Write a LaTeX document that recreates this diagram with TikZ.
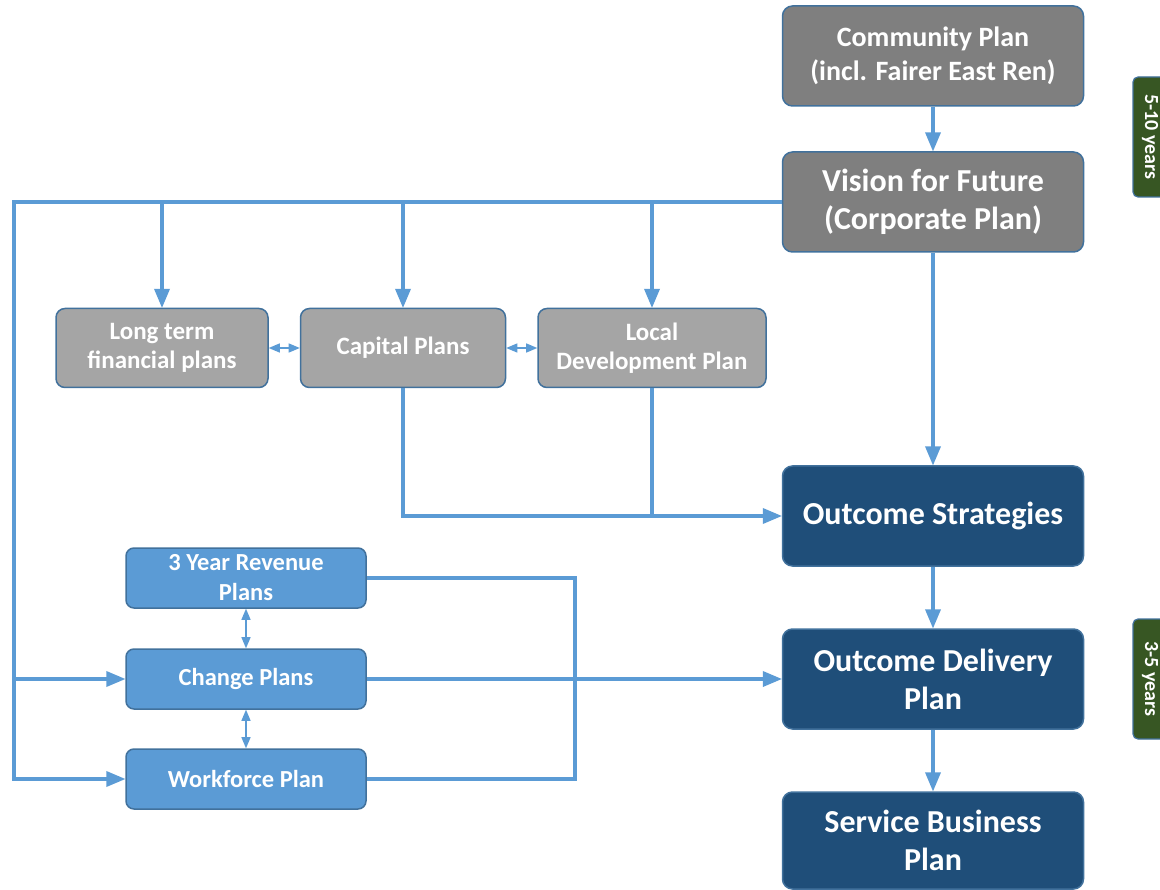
\documentclass[tikz,border=0pt]{standalone}
\usepackage{fontspec}
\setmainfont{Carlito}
\usetikzlibrary{arrows,shapes}

\definecolor{darkgrey}{HTML}{7F7F7F}
\definecolor{lightgrey}{HTML}{A5A5A5}
\definecolor{navy}{HTML}{1F4E79}
\definecolor{skyblue}{HTML}{5B9BD5}
\definecolor{edge}{HTML}{41719C}
\definecolor{leaf}{HTML}{375623}

\begin{document}
\begin{tikzpicture}[x=1pt,y=-1pt,
	top node/.style={rectangle,rounded corners=10pt,draw=edge,line width=1.5pt,fill=darkgrey,text=white,minimum width=301pt,minimum height=100pt,align=center},
	plan node/.style={rectangle,rounded corners=9pt,draw=edge,line width=1.5pt,fill=lightgrey,text=white,minimum height=79pt,align=center,font=\fontsize{25}{29}\selectfont\bfseries},
	outcome node/.style={top node,fill=navy,font=\fontsize{32}{38}\selectfont\bfseries},
	sub node/.style={rectangle,rounded corners=8pt,draw=edge,line width=1.5pt,fill=skyblue,text=white,minimum width=240pt,minimum height=60pt,align=center,font=\fontsize{24.5}{30}\selectfont\bfseries},
	tab node/.style={rectangle,rounded corners=5pt,draw=edge,line width=1.2pt,fill=leaf,text=white,rotate=-90,minimum width=120pt,minimum height=34pt,font=\fontsize{20}{22}\selectfont\bfseries},
	link/.style={->,>=triangle 45,draw=skyblue,line width=3.5pt},
	line/.style={draw=skyblue,line width=3.5pt},
	dbl/.style={<->,>=triangle 45,draw=skyblue,line width=1.6pt}
]
	\useasboundingbox (0,0) rectangle (1160,890);

	\node[top node,font=\fontsize{28}{34}\selectfont\bfseries] (C) at (933,56) {Community Plan\\(incl. Fairer East Ren)};
	\node[top node,font=\fontsize{32}{38}\selectfont\bfseries] (V) at (933,202) {Vision for Future\\(Corporate Plan)};

	\node[plan node,minimum width=212pt] (LT) at (162,348) {Long term\\financial plans};
	\node[plan node,minimum width=205pt] (CP) at (403,348) {Capital Plans};
	\node[plan node,minimum width=228pt] (LDP) at (652,348) {Local\\Development Plan};

	\node[outcome node] (OS) at (933,516) {Outcome Strategies};
	\node[outcome node] (OD) at (933,679) {Outcome Delivery\\Plan};
	\node[outcome node,minimum height=97pt] (SB) at (933,840.5) {Service Business\\Plan};

	\node[sub node] (YR) at (246,578) {3 Year Revenue\\Plans};
	\node[sub node] (CH) at (246,679) {Change Plans};
	\node[sub node] (WF) at (246,779) {Workforce Plan};

	\node[tab node] (T1) at (1150,137) {5-10 years};
	\node[tab node] (T2) at (1150,679) {3-5 years};

	\coordinate (lt) at (14,202);
	\coordinate (lb) at (14,679);
	\coordinate (rj) at (575,578);

	\draw[link] (C) -- (V);
	\draw[link] (V.west) -- (lt) |- (WF.west);
	\draw[link] (lb) -- (CH.west);
	\draw[link] (LT |- V.west) -- (LT);
	\draw[link] (CP |- V.west) -- (CP);
	\draw[link] (LDP |- V.west) -- (LDP);
	\draw[link] (V) -- (OS);
	\draw[link] (CP.south) |- (OS.west);
	\draw[line] (LDP.south) -- (LDP.south |- OS.west);
	\draw[link] (OS) -- (OD);
	\draw[link] (OD) -- (SB);
	\draw[line] (YR.east) -- (rj) |- (WF.east);
	\draw[link] (CH) -- (OD);

	\draw[dbl] (LT) -- (CP);
	\draw[dbl] (CP) -- (LDP);
	\draw[dbl] (YR) -- (CH);
	\draw[dbl] (CH) -- (WF);

\end{tikzpicture}
\end{document}
